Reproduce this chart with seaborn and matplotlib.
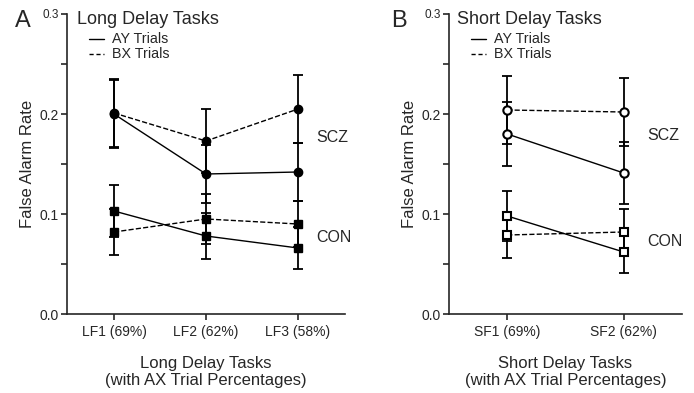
import matplotlib
matplotlib.use("Agg")
import matplotlib.pyplot as plt
import seaborn as sns
import pandas as pd
import numpy as np

sns.set_style("ticks")
plt.rcParams['font.family'] = ['Liberation Sans', 'DejaVu Sans']

# ---- data ----
long_tasks = ["LF1 (69%)", "LF2 (62%)", "LF3 (58%)"]
short_tasks = ["SF1 (69%)", "SF2 (62%)"]

long_scz_ay = [0.200, 0.140, 0.142]
long_scz_ay_err = [0.034, 0.029, 0.029]
long_scz_bx = [0.201, 0.173, 0.205]
long_scz_bx_err = [0.034, 0.032, 0.034]
long_con_ay = [0.103, 0.078, 0.066]
long_con_ay_err = [0.026, 0.023, 0.021]
long_con_bx = [0.082, 0.095, 0.090]
long_con_bx_err = [0.023, 0.025, 0.023]

short_scz_ay = [0.180, 0.141]
short_scz_ay_err = [0.032, 0.031]
short_scz_bx = [0.204, 0.202]
short_scz_bx_err = [0.034, 0.034]
short_con_ay = [0.098, 0.062]
short_con_ay_err = [0.025, 0.021]
short_con_bx = [0.079, 0.082]
short_con_bx_err = [0.023, 0.023]


def build(tasks, series):
    rows = []
    for (grp, trial), (vals, errs) in series.items():
        for i, t in enumerate(tasks):
            rows.append(dict(task=t, pos=i, group=grp, trial=trial,
                             rate=vals[i], err=errs[i]))
    return pd.DataFrame(rows)


df_long = build(long_tasks, {
    ("SCZ", "AY"): (long_scz_ay, long_scz_ay_err),
    ("SCZ", "BX"): (long_scz_bx, long_scz_bx_err),
    ("CON", "AY"): (long_con_ay, long_con_ay_err),
    ("CON", "BX"): (long_con_bx, long_con_bx_err),
})
df_short = build(short_tasks, {
    ("SCZ", "AY"): (short_scz_ay, short_scz_ay_err),
    ("SCZ", "BX"): (short_scz_bx, short_scz_bx_err),
    ("CON", "AY"): (short_con_ay, short_con_ay_err),
    ("CON", "BX"): (short_con_bx, short_con_bx_err),
})

fig = plt.figure(figsize=(6.94, 3.93), dpi=100)
W, H = 694, 393
axA = fig.add_axes([67 / W, 1 - 314 / H, (345 - 67) / W, 300 / H])
axB = fig.add_axes([449 / W, 1 - 314 / H, (682 - 449) / W, 300 / H])


def draw(ax, df, tasks, filled):
    for (grp, trial), sub in df.groupby(["group", "trial"]):
        ax.errorbar(sub["pos"], sub["rate"], yerr=sub["err"], fmt="none",
                    ecolor="black", elinewidth=1.3, capsize=3.8, capthick=1.3,
                    zorder=2)
    for (grp, trial), sub in df.groupby(["group", "trial"]):
        marker = "o" if grp == "SCZ" else "s"
        ls = "-" if trial == "AY" else "--"
        sns.lineplot(data=sub, x="pos", y="rate", ax=ax, color="black",
                     linestyle=ls, linewidth=1.0, marker=marker,
                     markersize=6 if marker == "o" else 6.2,
                     markerfacecolor="black" if filled else "white",
                     markeredgecolor="black",
                     markeredgewidth=1.0 if filled else 1.5,
                     zorder=3, legend=False, errorbar=None)
    ax.set_ylim(0, 0.3)
    ax.set_yticks([0.0, 0.1, 0.2, 0.3])
    ax.set_yticklabels(["0.0", "0.1", "0.2", "0.3"])
    ax.set_yticks([0.05, 0.15, 0.25], minor=True)
    ax.set_xticks(range(len(tasks)))
    ax.set_xticklabels(tasks)
    ax.tick_params(axis="both", labelsize=10, length=4, width=1.2, pad=2)
    ax.tick_params(axis="x", pad=4)
    ax.tick_params(axis="y", which="minor", length=4, width=1.2)
    labs = ax.get_yticklabels()
    labs[-1].set_fontsize(8.5)
    for s in ["top", "right"]:
        ax.spines[s].set_visible(False)
    for s in ["left", "bottom"]:
        ax.spines[s].set_linewidth(1.2)
    ax.set_ylabel("False Alarm Rate", fontsize=12, labelpad=3)


draw(axA, df_long, long_tasks, True)
axA.set_xlim(-0.51, 2.51)
axA.set_xlabel("Long Delay Tasks\n(with AX Trial Percentages)", fontsize=12,
               labelpad=12, linespacing=1.15)

draw(axB, df_short, short_tasks, False)
axB.set_xlim(-0.5, 1.5)
axB.set_xlabel("Short Delay Tasks\n(with AX Trial Percentages)", fontsize=12,
               labelpad=12, linespacing=1.15)


def annot(ax, letter, title, letter_x, scz_y, con_y, grp_x):
    fig.text(letter_x / W, 1 - 21 / H, letter, fontsize=17, va="center",
             ha="left")
    ax.text(0.035, 1 - 6 / 300, title, transform=ax.transAxes, fontsize=13,
            va="center", ha="left")
    for i, (lbl, ls) in enumerate([("AY Trials", "-"), ("BX Trials", "--")]):
        y = 1 - (25 + i * 15) / 300
        wpx = ax.get_position().width * W
        x0 = 22 / wpx
        ax.plot([x0, x0 + 15 / wpx], [y, y],
                transform=ax.transAxes, color="black",
                linestyle=ls, linewidth=1.0,
                dashes=(3, 2) if ls == "--" else (None, None))
        ax.text(x0 + 23 / wpx, y, lbl,
                transform=ax.transAxes, fontsize=10.3, va="center", ha="left")
    ax.text(grp_x, scz_y, "SCZ", transform=ax.transAxes, fontsize=11.5,
            va="center", ha="left")
    ax.text(grp_x, con_y, "CON", transform=ax.transAxes, fontsize=11.5,
            va="center", ha="left")


annot(axA, "A", "Long Delay Tasks", 15, 1 - (137 - 14) / 300, 1 - (237 - 14) / 300,
      (316 - 67) / (345 - 67))
annot(axB, "B", "Short Delay Tasks", 391, 1 - (135 - 14) / 300, 1 - (241 - 14) / 300,
      (647 - 449) / (682 - 449))

fig.savefig("out.png", dpi=100)
